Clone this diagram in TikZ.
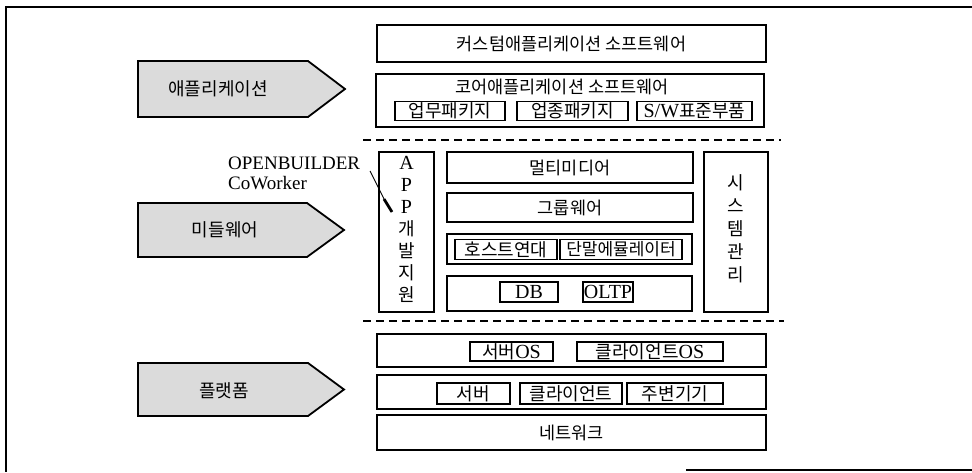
\documentclass[tikz,border=0pt]{standalone}
\usepackage{fontspec}
\setmainfont{Liberation Serif}
\newfontfamily\krf{Noto Sans CJK KR}
\newfontfamily\latf{Liberation Serif}
\newcommand\mylat[1]{{\latf\fontsize{20}{20}\selectfont #1}}
\tikzset{
  frameline/.style={line width=1.3pt},
  layer/.style={draw, line width=1.8pt, inner sep=0pt},
  subbox/.style={draw, line width=1.5pt, inner sep=0pt, minimum height=19pt},
  sepline/.style={line width=1.5pt, dash pattern=on 8pt off 5pt},
  tagshape/.style={draw, line width=1.8pt, fill=black!14},
  ktitle/.style={font=\krf\fontsize{17.5}{19}\selectfont},
  ktag/.style={font=\krf\fontsize{18}{19}\selectfont},
  ksub/.style={font=\krf\fontsize{18}{19}\selectfont},
  latlabel/.style={font=\latf\fontsize{19}{20}\selectfont, inner sep=0pt},
}
\begin{document}
\begin{tikzpicture}[x=1pt, y=-1pt]
\useasboundingbox (0,0) rectangle (972,473);
% frame
\coordinate (f1) at (972,7);
\coordinate (f2) at (6,7);
\coordinate (f3) at (6,472);
\coordinate (f4) at (686,470);
\coordinate (f5) at (972,470);
\draw[frameline] (f1) -- (f2) -- (f3);
\draw[frameline] (f4) -- (f5);

% tags (pentagon arrows)
\draw[tagshape] (138,61) -- (308,61) -- (345,89) -- (308,117) -- (138,117) -- cycle;
\node[ktag] (tapp) at (218,89) {애플리케이션};
\draw[tagshape] (138,203) -- (307,203) -- (344,230) -- (307,257) -- (138,257) -- cycle;
\node[ktag] (tmid) at (225,230) {미들웨어};
\draw[tagshape] (138,363) -- (308,363) -- (344,389.5) -- (308,416) -- (138,416) -- cycle;
\node[ktag] (tplat) at (224,391) {플랫폼};

% application layer
\node[layer, ktitle, minimum width=389pt, minimum height=37pt] (custom) at (571.5,43.5) {커스텀애플리케이션 소프트웨어};
\node[layer, minimum width=388pt, minimum height=53pt] (core) at (570,100.5) {};
\node[ktitle] (coret) at (562,87) {코어애플리케이션 소프트웨어};
\node[subbox, ksub, minimum width=110pt] (s1) at (450,111) {업무패키지};
\node[subbox, ksub, minimum width=111pt] (s2) at (572.5,111) {업종패키지};
\node[subbox, ksub, minimum width=115pt] (s3) at (694.5,111) {\mylat{S/W}표준부품};

% separator 1
\coordinate (d1a) at (363,140);
\coordinate (d1b) at (781,140);
\draw[sepline] (d1a) -- (d1b);

% middleware
\node[layer, minimum width=55pt, minimum height=160pt] (app) at (406.5,232) {};
\node[align=center, inner sep=0pt, font=\krf\fontsize{18}{22}\selectfont] (appt) at (406.5,229)
  {\mylat{A}\\\mylat{P}\\\mylat{P}\\개\\발\\지\\원};
\node[layer, ktitle, minimum width=246pt, minimum height=31pt] (mm) at (570,167.5) {멀티미디어};
\node[layer, ktitle, minimum width=246pt, minimum height=29pt] (gw) at (570,207.5) {그룹웨어};
\node[layer, minimum width=245pt, minimum height=30pt] (hostrow) at (569.5,249) {};
\node[subbox, ksub, minimum width=102pt, minimum height=20pt] (host) at (506,249.5) {호스트연대};
\node[subbox, font=\krf\fontsize{17}{19}\selectfont, minimum width=122pt, minimum height=20pt] (term) at (621,249.5) {단말에뮬레이터};
\node[layer, minimum width=245pt, minimum height=35pt] (dbrow) at (569.5,293.5) {};
\node[subbox, minimum width=58pt, minimum height=20pt] (db) at (529,292) {\mylat{DB}};
\node[subbox, minimum width=50pt, minimum height=20pt] (oltp) at (608,292) {\mylat{OLTP}};
\node[layer, minimum width=64pt, minimum height=160pt] (sys) at (736,232) {};
\node[align=center, inner sep=0pt, font=\krf\fontsize{18}{23}\selectfont] (syst) at (736,229)
  {시\\스\\템\\관\\리};

% OPENBUILDER label with pointer
\node[latlabel, anchor=base west] (ob1) at (228,170) {OPENBUILDER};
\node[latlabel, anchor=base west] (ob2) at (228,190) {CoWorker};
\coordinate (pa) at (370,171);
\coordinate (pb) at (384,199);
\coordinate (pc) at (392,212);
\draw[line width=0.9pt] (pa) -- (pb);
\draw[line width=2.8pt] (pb) -- (pc);

% separator 2
\coordinate (d2a) at (363,321);
\coordinate (d2b) at (784,321);
\draw[sepline] (d2a) -- (d2b);

% platform
\node[layer, minimum width=389pt, minimum height=33pt] (osrow) at (571.5,350.5) {};
\node[subbox, ksub, minimum width=83pt] (sos) at (511.5,351.5) {서버\mylat{OS}};
\node[subbox, ksub, minimum width=146pt] (cos) at (650,351.5) {클라이언트\mylat{OS}};
\node[layer, minimum width=389pt, minimum height=34pt] (hwrow) at (571.5,392) {};
\node[subbox, ksub, minimum width=73pt, minimum height=21pt] (srv) at (473.5,393.5) {서버};
\node[subbox, ksub, minimum width=102pt, minimum height=21pt] (cli) at (571,393.5) {클라이언트};
\node[subbox, ksub, minimum width=96pt, minimum height=21pt] (per) at (675,393.5) {주변기기};
\node[layer, ktitle, minimum width=389pt, minimum height=35pt] (net) at (571.5,432.5) {네트워크};
\end{tikzpicture}
\end{document}
